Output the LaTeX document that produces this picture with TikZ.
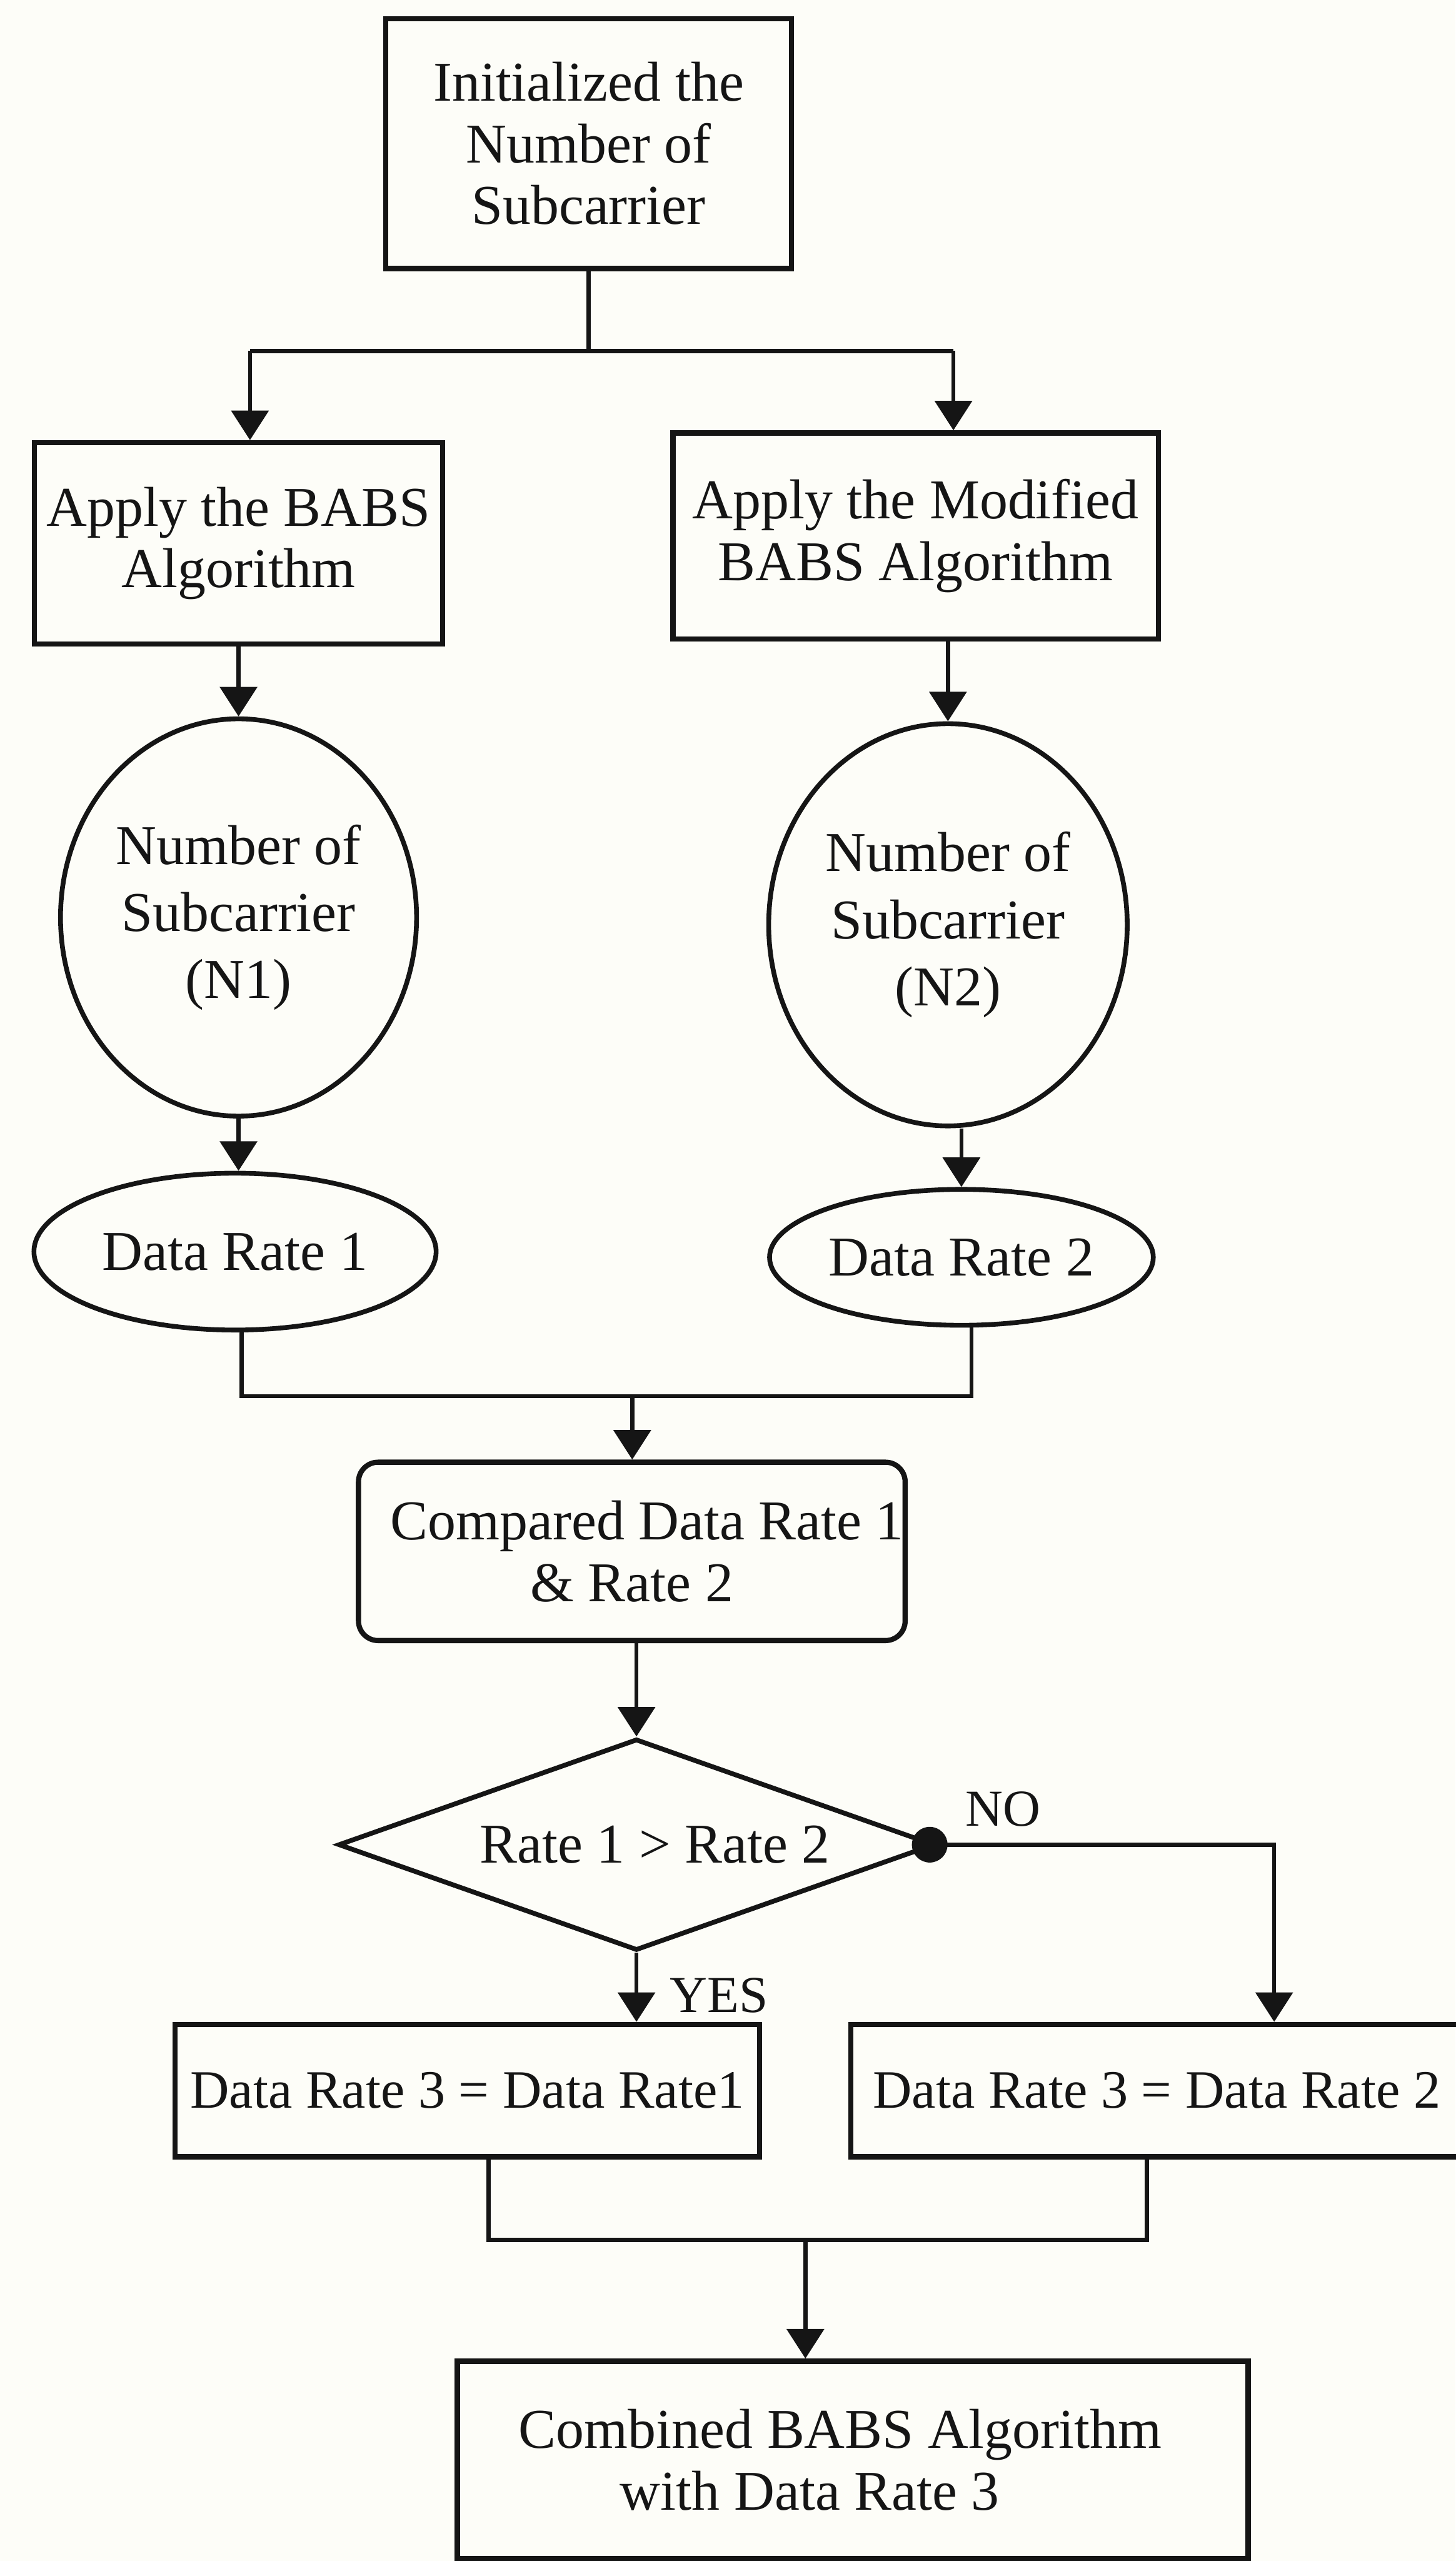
\documentclass[tikz,border=0pt]{standalone}
\usepackage{fontspec}
\setmainfont{Liberation Serif}
\usepackage{tikz}
\usetikzlibrary{shapes.geometric,arrows.meta,positioning,calc}
\definecolor{Ink}{HTML}{151515}
\definecolor{Paper}{HTML}{FDFDF8}

\begin{document}
\begin{tikzpicture}[every node/.style={font=\fontsize{26}{28.5}\selectfont, align=center, text=Ink},
  stepbox/.style={draw=Ink, line width=2.4pt, rectangle, inner sep=0pt},
  cutbox/.style={stepbox, rounded corners=0.32cm},
  oval/.style={draw=Ink, line width=2.2pt, ellipse, inner sep=0pt,
        font=\fontsize{26}{31}\selectfont},
  decision/.style={draw=Ink, line width=2.2pt, diamond, aspect=2.8, inner sep=0pt},
  tag/.style={font=\fontsize{24}{26}\selectfont, inner sep=0pt},
  wire/.style={draw=Ink, line width=1.9pt},
  flow/.style={wire, -{Triangle[length=0.48cm,width=0.6cm]}}]
  \path[use as bounding box, fill=Paper] (0,0) rectangle (23.67,-41.64);

  % two algorithm branches
  \node[stepbox, minimum width=6.60cm, minimum height=4.06cm] (init) at (9.571,-2.335)
    {Initialized the\\Number of\\Subcarrier};
  \node[stepbox, minimum width=6.64cm, minimum height=3.27cm] (babs) at (3.879,-8.833)
    {Apply the BABS\\Algorithm};
  \node[stepbox, minimum width=7.89cm, minimum height=3.35cm] (mbabs) at (14.890,-8.714)
    {Apply the Modified\\BABS Algorithm};
  \node[oval, minimum width=5.79cm, minimum height=6.46cm] (nsub1) at (3.879,-14.917)
    {Number of\\Subcarrier\\(N1)};
  \node[oval, minimum width=5.83cm, minimum height=6.54cm] (nsub2) at (15.415,-15.036)
    {Number of\\Subcarrier\\(N2)};
  \node[oval, minimum width=6.54cm, minimum height=2.55cm] (rate1) at (3.822,-20.350) {Data Rate 1};
  \node[oval, minimum width=6.24cm, minimum height=2.21cm] (rate2) at (15.634,-20.443) {Data Rate 2};

  % comparison and choice
  \node[cutbox, minimum width=8.89cm, minimum height=2.90cm] (cmp) at (10.274,-25.224)
    {\hspace*{0.5cm}Compared Data Rate 1\\\& Rate 2};
  \node[decision, minimum width=9.70cm, minimum height=3.44cm] (cond) at (10.350,-29.993)
    {\hspace*{0.6cm}Rate 1 > Rate 2};
  \node[stepbox, font=\fontsize{25}{28}\selectfont, minimum width=9.51cm, minimum height=2.15cm]
    (pick1) at (7.598,-33.991) {Data Rate 3 = Data Rate1};
  \node[stepbox, font=\fontsize{25}{28}\selectfont, minimum width=9.94cm, minimum height=2.15cm]
    (pick2) at (18.809,-33.991) {Data Rate 3 = Data Rate 2};
  \node[stepbox, minimum width=12.86cm, minimum height=3.21cm] (comb) at (13.867,-39.995)
    {Combined BABS Algorithm\hspace*{0.4cm}\\with Data Rate 3\hspace*{1.4cm}};
  \node[tag] (yes) at (11.69,-32.44) {YES};
  \node[tag] (no) at (16.31,-29.41) {NO};

  % junction points
  \coordinate (splitL) at (4.065,-5.706);
  \coordinate (splitR) at (15.504,-5.706);
  \coordinate (joinAL) at (3.932,-22.701);
  \coordinate (joinAR) at (15.80,-22.701);
  \coordinate (joinA) at (10.281,-22.701);
  \coordinate (noturn) at (20.72,-29.993);
  \coordinate (joinBL) at (7.943,-36.422);
  \coordinate (joinBR) at (18.649,-36.422);
  \coordinate (joinB) at (13.097,-36.422);

  \draw[wire] (init.south) -- (init.south |- splitL);
  \draw[wire] (splitL) -- (splitR);
  \draw[flow] (splitL) -- (splitL |- babs.north);
  \draw[flow] (splitR) -- (splitR |- mbabs.north);
  \draw[flow] (babs.south) -- (nsub1.north);
  \draw[flow] (nsub2.north |- mbabs.south) -- (nsub2.north);
  \draw[flow] (nsub1.south) -- (nsub1.south |- rate1.north);
  \draw[flow] (rate2.north |- nsub2.south) -- (rate2.north);
  \draw[wire] (joinAL |- rate1.south) -- (joinAL) -- (joinAR) -- (joinAR |- rate2.south);
  \draw[flow] (joinA) -- (joinA |- cmp.north);
  \draw[flow] (cond.north |- cmp.south) -- (cond.north);
  \draw[flow] (cond.south) -- (cond.south |- pick1.north);
  \draw[flow] (cond.east) -- (noturn) -- (noturn |- pick2.north);
  \fill[Ink] ([xshift=-0.12cm]cond.east) circle (0.29cm);
  \draw[wire] (joinBL |- pick1.south) -- (joinBL) -- (joinBR) -- (joinBR |- pick2.south);
  \draw[flow] (joinB) -- (joinB |- comb.north);
\end{tikzpicture}
\end{document}
